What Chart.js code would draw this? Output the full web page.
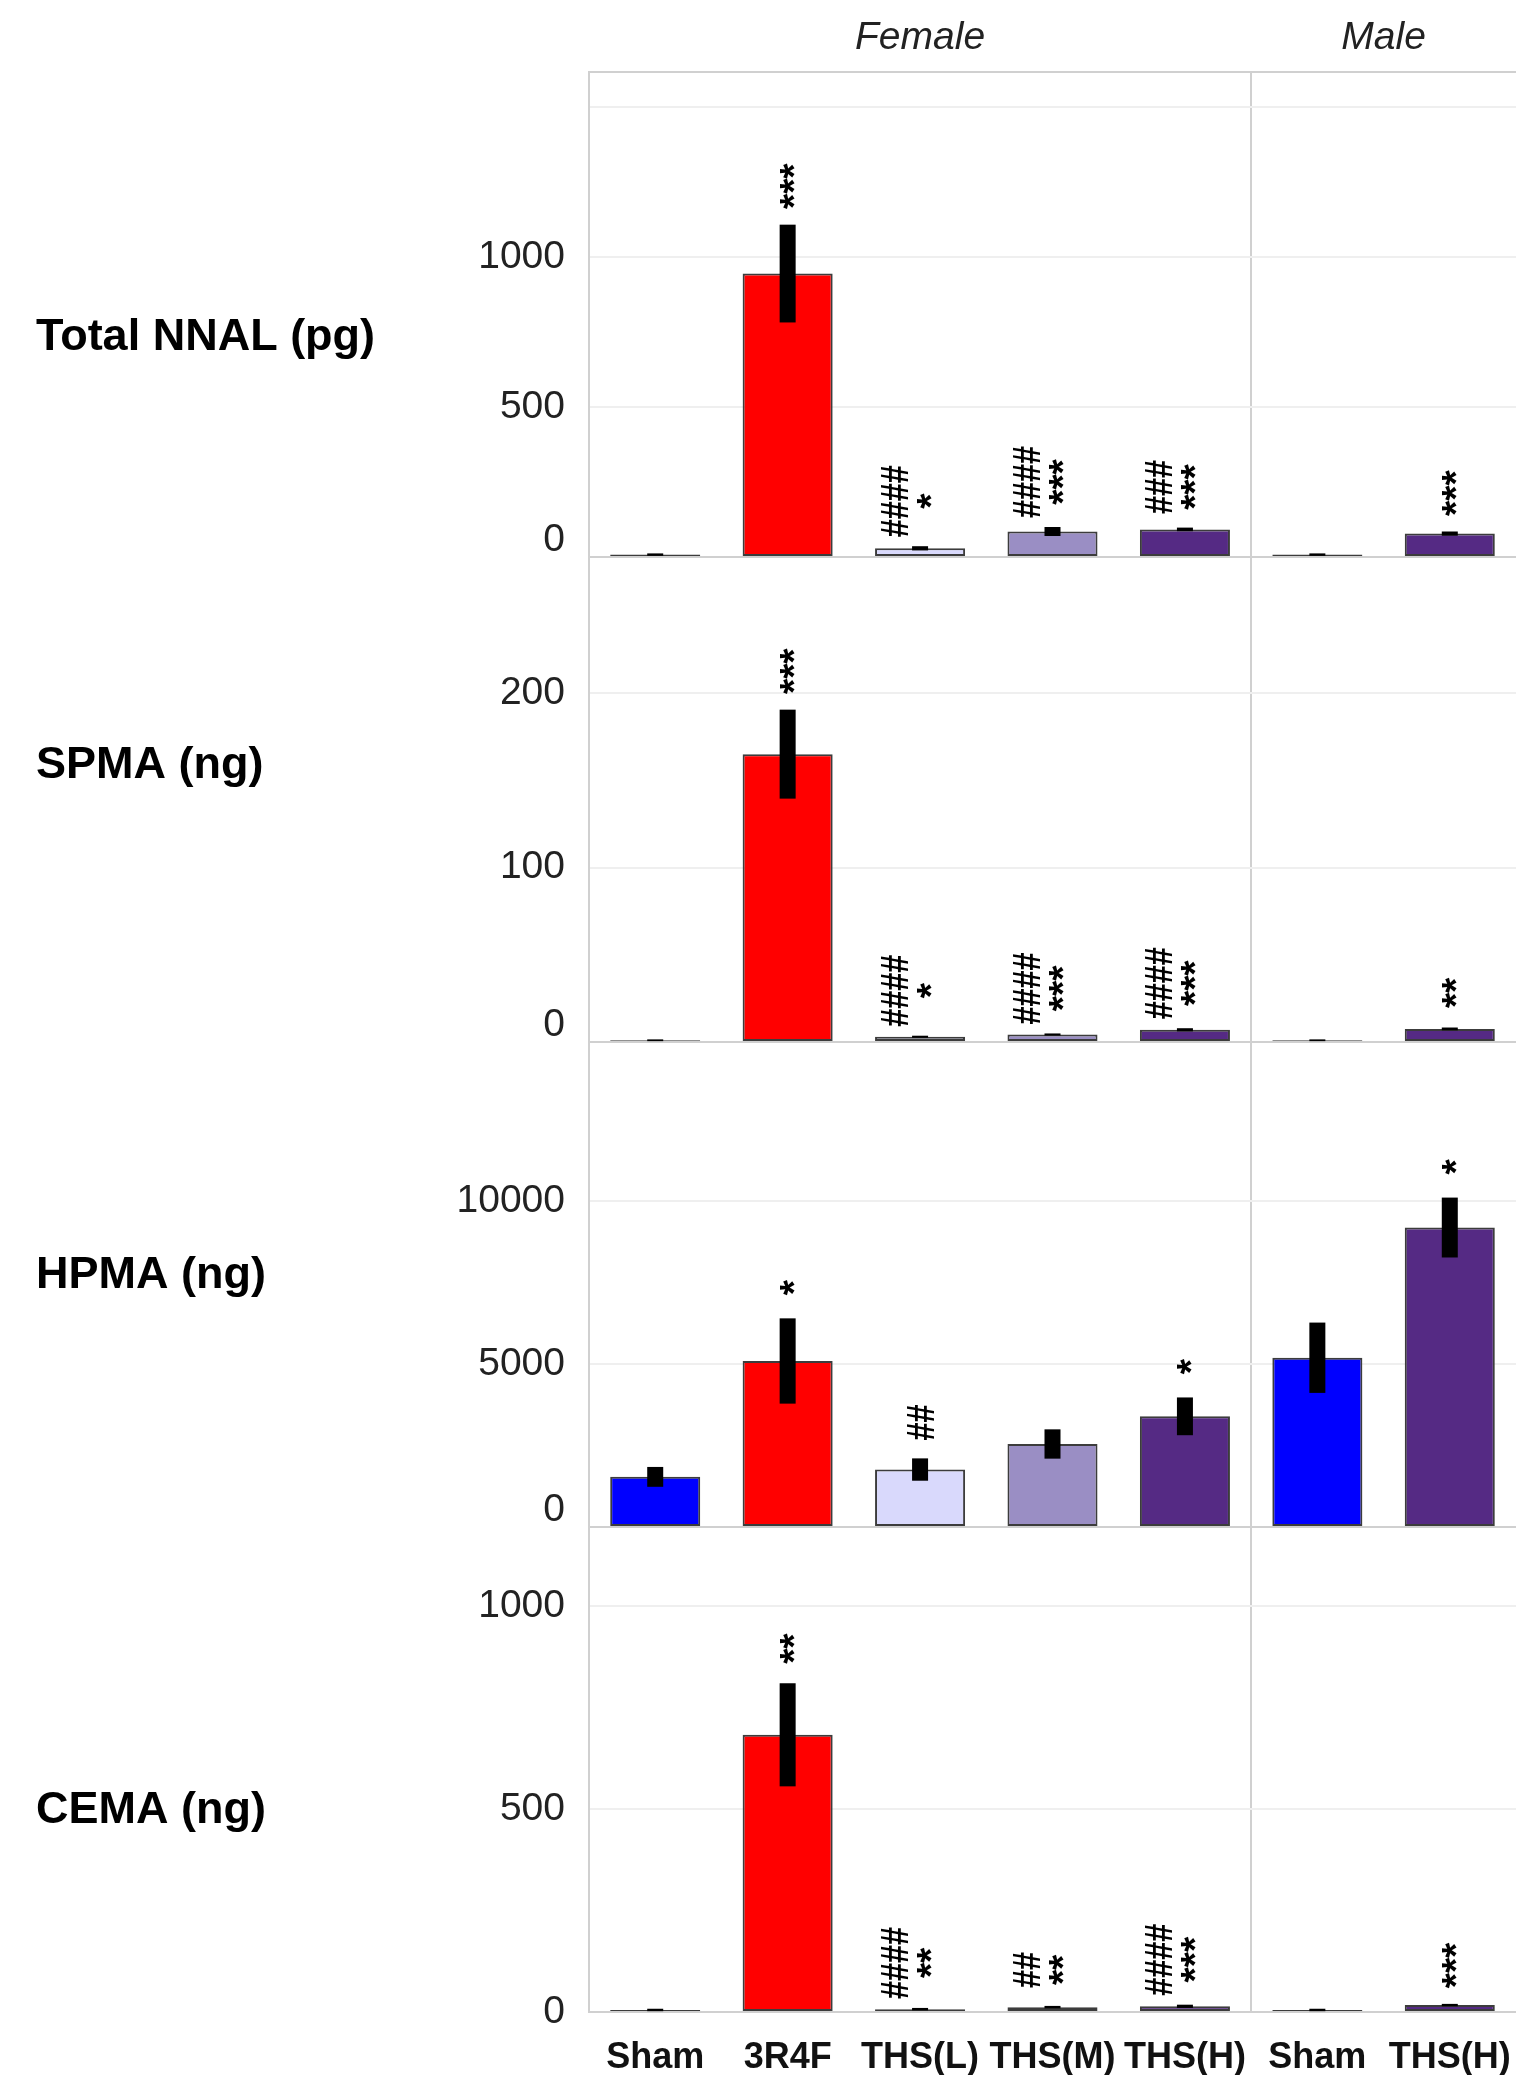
<!DOCTYPE html>
<html>
<head>
<meta charset="utf-8">
<title>Urinary biomarkers of exposure</title>
<script src="https://cdn.jsdelivr.net/npm/chart.js@4.4.1/dist/chart.umd.min.js"></script>
<style>
  html, body { margin: 0; padding: 0; background: #fff; overflow: hidden; }
  #wrap { width: 1516px; height: 2075px; }
</style>
</head>
<body>
<div id="wrap"><canvas id="bioChart" width="1516" height="2075"></canvas></div>
<script>
// x categories: five female groups, then two male groups
const groups = ['Sham', '3R4F', 'THS(L)', 'THS(M)', 'THS(H)', 'Sham', 'THS(H)'];
const sexes = ['Female', 'Male'];
const sexCounts = [5, 2];

// rows, top to bottom
const rowTitles = ['Total NNAL (pg)', 'SPMA (ng)', 'HPMA (ng)', 'CEMA (ng)'];
const rowMax = [1617, 278, 14900, 1195];

// Total NNAL
const nnalTicks = [0, 500, 1000, 1500];
const nnalMean = [8, 945, 29, 85, 92, 8, 78];
const nnalErr = [4, 163, 7, 15, 6, 4, 7];
const nnalHash = ['', '', '####', '####', '###', '', ''];
const nnalStar = ['', '***', '*', '***', '***', '', '***'];

// SPMA
const spmaTicks = [0, 100, 200];
const spmaMean = [1, 165, 3, 4.3, 7, 1, 7.5];
const spmaErr = [0.5, 25.5, 0.6, 0.6, 0.9, 0.5, 0.8];
const spmaHash = ['', '', '####', '####', '####', '', ''];
const spmaStar = ['', '***', '*', '***', '***', '', '**'];

// HPMA
const hpmaTicks = [0, 5000, 10000];
const hpmaMean = [1540, 5100, 1765, 2550, 3400, 5200, 9200];
const hpmaErr = [305, 1310, 343, 450, 580, 1080, 920];
const hpmaHash = ['', '', '##', '', '', '', ''];
const hpmaStar = ['', '*', '', '', '*', '', '*'];

// CEMA
const cemaTicks = [0, 500, 1000];
const cemaMean = [5, 683, 7, 12, 14, 5, 17];
const cemaErr = [3, 127, 3, 3, 4, 3, 3];
const cemaHash = ['', '', '####', '##', '####', '', ''];
const cemaStar = ['', '**', '**', '**', '***', '', '***'];

const rowTicks = [nnalTicks, spmaTicks, hpmaTicks, cemaTicks];
const means = [nnalMean, spmaMean, hpmaMean, cemaMean];
const errs = [nnalErr, spmaErr, hpmaErr, cemaErr];
const hashes = [nnalHash, spmaHash, hpmaHash, cemaHash];
const stars = [nnalStar, spmaStar, hpmaStar, cemaStar];

const rowIds = ['yNnal', 'ySpma', 'yHpma', 'yCema'];
const rowTitleAt = [0.548, 0.43, 0.481, 0.584];
const groupColors = ['#0000ff', '#ff0000', '#d9d9fc', '#9a8ec4', '#552a84', '#0000ff', '#552a84'];
const FONT = '"Liberation Sans", Arial, Helvetica, sans-serif';
const LINE = '#d0d0d0';
const CLEAR = 'rgba(0,0,0,0)';
const HASH_SQUEEZE = 0.83; // hash marks are set tighter than the stars

// thick black SEM bars, no caps
const errorBars = {
  id: 'errorBars',
  afterDatasetsDraw(chart) {
    const ctx = chart.ctx;
    ctx.save();
    ctx.fillStyle = '#000';
    rowIds.forEach((id, r) => {
      const yScale = chart.scales[id];
      chart.getDatasetMeta(r).data.forEach((bar, i) => {
        const top = yScale.getPixelForValue(means[r][i] + errs[r][i]);
        const bot = yScale.getPixelForValue(Math.max(means[r][i] - errs[r][i], 0));
        ctx.fillRect(bar.x - 8, top, 16, bot - top);
      });
    });
    ctx.restore();
  }
};

// rotated # / * significance marks above the error bars
const sigMarks = {
  id: 'sigMarks',
  afterDatasetsDraw(chart) {
    const ctx = chart.ctx;
    ctx.save();
    ctx.fillStyle = '#000';
    ctx.font = 'bold 39px ' + FONT;
    ctx.textAlign = 'center';
    ctx.textBaseline = 'alphabetic';
    rowIds.forEach((id, r) => {
      const yScale = chart.scales[id];
      chart.getDatasetMeta(r).data.forEach((bar, i) => {
        const lines = [hashes[r][i], stars[r][i]].filter(s => s);
        if (!lines.length) return;
        const errTop = yScale.getPixelForValue(means[r][i] + errs[r][i]);
        const lens = lines.map(s => ctx.measureText(s).width * (s[0] === '#' ? HASH_SQUEEZE : 1));
        const half = Math.max(...lens) / 2;
        const cy = errTop - 27 - 0.5 * half;
        const shifts = lines.length === 2 ? [-26, 4] : [0];
        lines.forEach((s, k) => {
          const m = ctx.measureText(s);
          const mid = (m.actualBoundingBoxDescent - m.actualBoundingBoxAscent) / 2;
          ctx.save();
          ctx.translate(bar.x + shifts[k], cy);
          ctx.rotate(-Math.PI / 2);
          if (s[0] === '#') ctx.scale(HASH_SQUEEZE, 1);
          ctx.fillText(s, 0, -mid);
          ctx.restore();
        });
      });
    });
    ctx.restore();
  }
};

// top border, Female/Male headers and the row titles on the left
const frame = {
  id: 'frame',
  afterDraw(chart) {
    const { ctx, chartArea } = chart;
    const x = chart.scales.x;
    ctx.save();
    ctx.strokeStyle = LINE;
    ctx.lineWidth = 2;
    ctx.beginPath();
    ctx.moveTo(chartArea.left, chartArea.top);
    ctx.lineTo(chartArea.right, chartArea.top);
    ctx.stroke();

    ctx.fillStyle = '#222';
    ctx.font = 'italic 39px ' + FONT;
    ctx.textAlign = 'center';
    ctx.textBaseline = 'middle';
    let start = 0;
    sexes.forEach((s, k) => {
      const end = start + sexCounts[k] - 1;
      const cx = (x.getPixelForValue(start) + x.getPixelForValue(end)) / 2;
      ctx.fillText(s, cx, chartArea.top / 2 + 2);
      start = end + 1;
    });

    ctx.fillStyle = '#000';
    ctx.font = 'bold 45px ' + FONT;
    ctx.textAlign = 'left';
    rowIds.forEach((id, r) => {
      const s = chart.scales[id];
      ctx.fillText(rowTitles[r], 36, s.top + rowTitleAt[r] * (s.bottom - s.top));
    });
    ctx.restore();
  }
};

const scales = {
  x: {
    type: 'category',
    labels: groups,
    offset: true,
    grid: {
      offset: true,
      lineWidth: 2,
      // invisible tick marks push the labels down without side padding
      drawTicks: true,
      tickLength: 24,
      tickColor: CLEAR,
      // only the line between the female and male blocks
      color: c => (c.index === sexCounts[0] ? LINE : CLEAR)
    },
    border: { display: true, color: LINE, width: 2 },
    ticks: {
      autoSkip: false,
      maxRotation: 0,
      padding: 0,
      color: '#111',
      font: { family: FONT, size: 36, weight: 'bold' }
    },
    afterFit(scale) { scale.height = 63; }
  }
};

// stacked left axes: Chart.js places the highest weight at the top
for (let r = rowIds.length - 1; r >= 0; r--) {
  scales[rowIds[r]] = {
    type: 'linear',
    position: 'left',
    stack: 'rows',
    stackWeight: 1,
    weight: rowIds.length - r,
    min: 0,
    max: rowMax[r],
    grid: {
      drawTicks: false,
      lineWidth: 2,
      color: c => (c.tick && c.tick.value === 0 ? LINE : '#efefef')
    },
    border: { display: true, color: LINE, width: 2 },
    ticks: {
      padding: 24,
      color: '#222',
      font: { family: FONT, size: 39, lineHeight: 0.85 },
      callback(value) {
        if (value > rowMax[r] * 0.9) return '';
        if (value === 0 && r < rowIds.length - 1) return ['0', ''];
        return String(value);
      }
    },
    afterBuildTicks(scale) {
      scale.ticks = rowTicks[r].map(v => ({ value: v }));
    },
    afterFit(scale) { scale.width = 589; }
  };
}

const datasets = rowIds.map((id, r) => ({
  label: rowTitles[r],
  data: means[r],
  yAxisID: id,
  xAxisID: 'x',
  grouped: false,
  backgroundColor: groupColors,
  borderColor: '#3c3c3c',
  borderWidth: 2,
  borderSkipped: false,
  barPercentage: 0.68,
  categoryPercentage: 1
}));

new Chart(document.getElementById('bioChart'), {
  type: 'bar',
  data: { labels: groups, datasets: datasets },
  options: {
    responsive: false,
    animation: false,
    devicePixelRatio: 1,
    layout: { padding: { top: 72, left: 0, right: 0, bottom: 0 } },
    plugins: {
      legend: { display: false },
      tooltip: { enabled: false }
    },
    scales: scales
  },
  plugins: [errorBars, sigMarks, frame]
});
</script>
</body>
</html>
